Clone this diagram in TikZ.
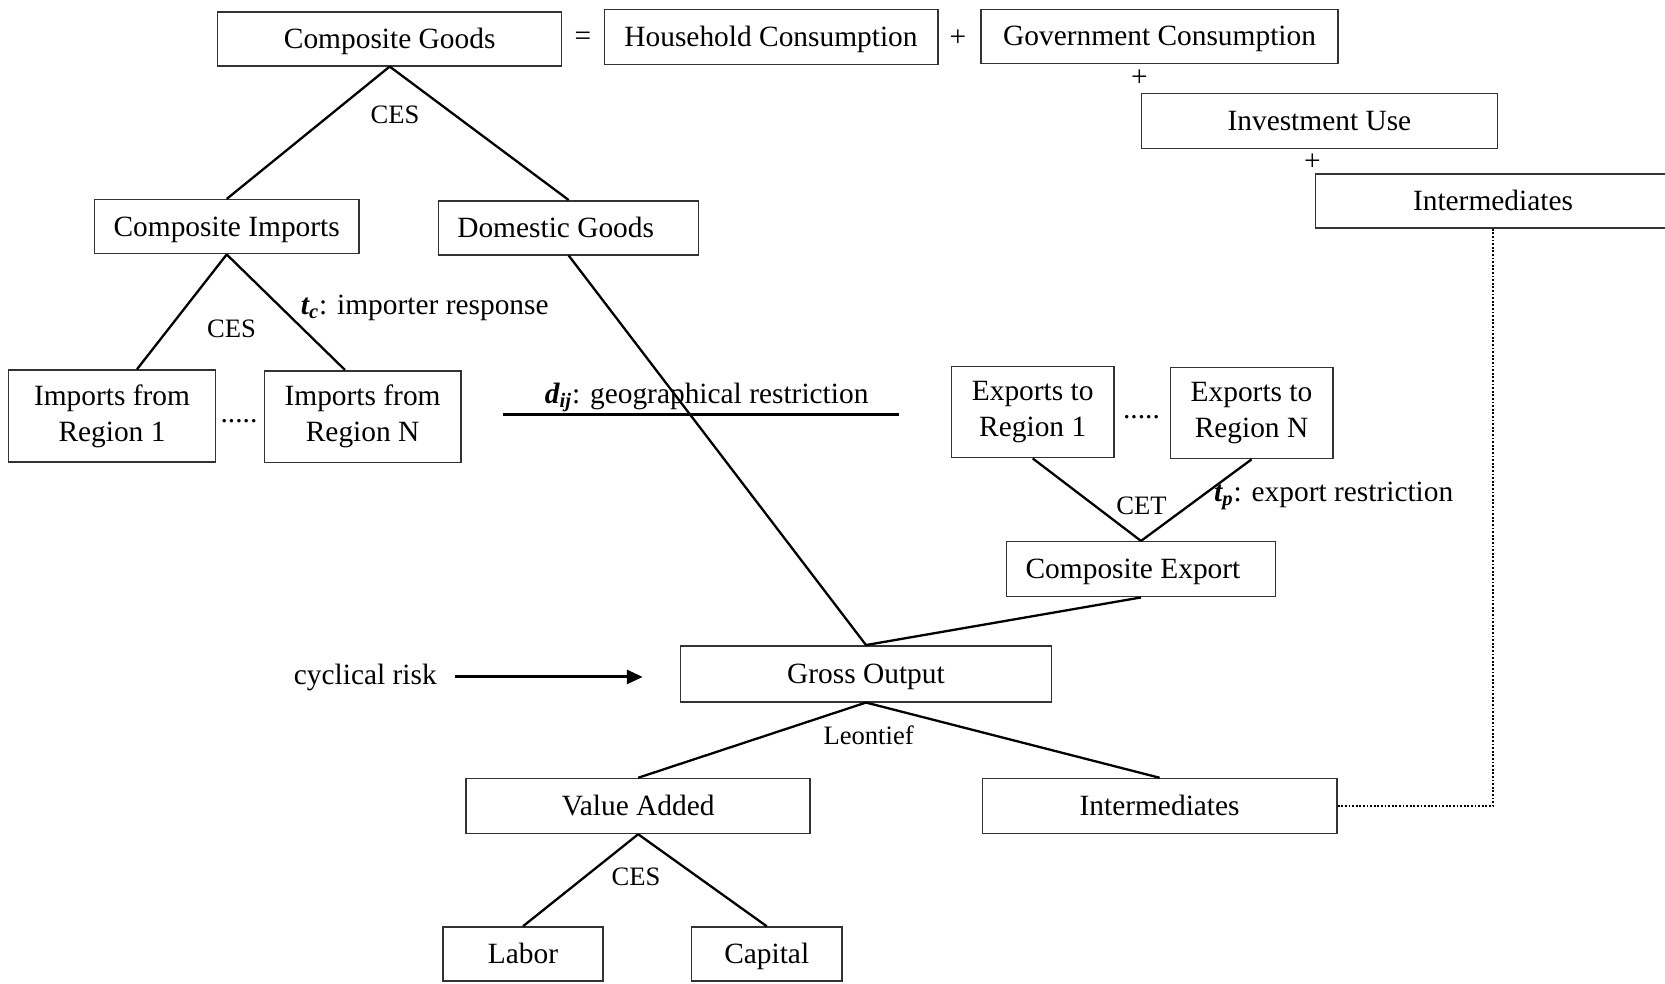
\documentclass[tikz,border=0pt]{standalone}
\usepackage{fontspec}
\setmainfont{Liberation Serif}
\usetikzlibrary{arrows.meta,calc}
\newcommand\mainfs{\fontsize{14.7}{18}\selectfont}
\newcommand\smallfs{\fontsize{13.3}{16}\selectfont}
\begin{document}
\begin{tikzpicture}[x=0.5pt,y=-0.5pt,
  box/.style={draw=black!80, line width=0.75pt, inner sep=0pt, font=\mainfs, align=center},
  box1/.style={box, text height=12.6pt, text depth=3.2pt},
  lbl/.style={inner sep=0pt, font=\smallfs},
  txt/.style={inner sep=0pt, font=\mainfs},
  conn/.style={line width=1.15pt, black},
  dotline/.style={line width=1.1pt, dash pattern=on 0.9pt off 0.9pt},
  arr/.style={line width=1.5pt, -{Triangle[length=8pt,width=7pt]}}
]
\useasboundingbox (0,0) rectangle (1665,984);

% top row
\node[box1, minimum width=172pt, minimum height=27pt] (cg) at (389.7,38.8) {Composite Goods};
\node[txt] (eq) at (583,39) {=};
\node[box1, minimum width=166.75pt, minimum height=27.5pt] (hh) at (771,37.2) {Household Consumption};
\node[txt] (p1) at (957.8,38.2) {+};
\node[box1, minimum width=178.5pt, minimum height=27pt] (gov) at (1159.6,36.6) {Government Consumption};
\node[txt] (p2) at (1139.4,78.6) {+};
\node[box1, minimum width=178pt, minimum height=27.5pt] (inv) at (1319.4,121) {Investment Use};
\node[txt] (p3) at (1312.5,162.5) {+};
\node[box1, minimum width=177.3pt, minimum height=27pt] (int1) at (1493,201.2) {Intermediates};

% imports side
\node[lbl] (ces1) at (395,114.7) {CES};
\node[box1, minimum width=132.2pt, minimum height=27pt] (ci) at (226.7,226.7) {Composite Imports};
\node[box1, minimum width=130pt, minimum height=27pt] (dg) at (568.7,227.8) {\hspace*{-13pt}Domestic Goods};
\node[box, minimum width=103.5pt, minimum height=46pt] (r1) at (112,416) {Imports from\\Region 1};
\node[box, minimum width=98.25pt, minimum height=45.75pt] (rN) at (362.6,416.5) {Imports from\\Region N};
\node[txt, anchor=base] (d1) at (239,422) {.....};
\node[lbl] (ces2) at (231.5,329.2) {CES};
\node[txt, anchor=west] (tc) at (300.5,308) {\textbf{\textit{t\textsubscript{c}}}: importer response};

% geographical restriction
\coordinate (dl) at (503.3,414.5);
\coordinate (dr) at (899.4,414.5);
\node[txt, anchor=base] (dij) at (706.7,403) {\textbf{\textit{d\textsubscript{ij}}}: geographical restriction};

% exports side
\node[box, minimum width=81.25pt, minimum height=45.65pt] (e1) at (1032.7,412) {Exports to\\Region 1};
\node[txt, anchor=base] (d2) at (1141.5,418) {.....};
\node[box, minimum width=81.25pt, minimum height=45.65pt] (eN) at (1251.5,413) {Exports to\\Region N};
\node[lbl] (cet) at (1141.5,505.5) {CET};
\node[txt, anchor=west] (tp) at (1213.8,496) {\textbf{\textit{t\textsubscript{p}}}: export restriction};
\node[box1, minimum width=134.3pt, minimum height=27.5pt] (ce) at (1141,569.2) {\hspace*{-8pt}Composite Export};

% production
\node[box1, minimum width=185.3pt, minimum height=28pt] (go) at (866,673.8) {Gross Output};
\node[txt, anchor=base] (cyc) at (365.3,684) {cyclical risk};
\node[lbl] (leon) at (868.6,734.8) {Leontief};
\node[box1, minimum width=172pt, minimum height=27.5pt] (va) at (638.2,806) {Value Added};
\node[box1, minimum width=177.35pt, minimum height=27.5pt] (int2) at (1159.6,806) {Intermediates};
\node[lbl] (ces3) at (636,877) {CES};
\node[box1, minimum width=80.2pt, minimum height=27pt] (lab) at (523,954) {Labor};
\node[box1, minimum width=75.4pt, minimum height=27pt] (cap) at (766.7,954) {Capital};

% connectors
\draw[conn] (cg.south) -- (ci.north);
\draw[conn] (cg.south) -- (dg.north);
\draw[conn] (ci.south) -- ($(r1.north)+(25,0)$);
\draw[conn] (ci.south) -- ($(rN.north)+(-17.6,0)$);
\draw[conn] (dg.south) -- (go.north);
\draw[conn] (dl) -- (dr);
\draw[conn] (e1.south) -- (ce.north);
\draw[conn] (eN.south) -- (ce.north);
\draw[conn] (ce.south) -- (go.north);
\draw[arr] ($(cyc.east)+(18,0)$) -- ($(go.west |- cyc.east)+(-37.2,0)$);
\draw[conn] (go.south) -- (va.north);
\draw[conn] (go.south) -- (int2.north);
\draw[conn] (va.south) -- (lab.north);
\draw[conn] (va.south) -- (cap.north);
\draw[dotline] (int2.east) -| (int1.south);
\end{tikzpicture}
\end{document}
